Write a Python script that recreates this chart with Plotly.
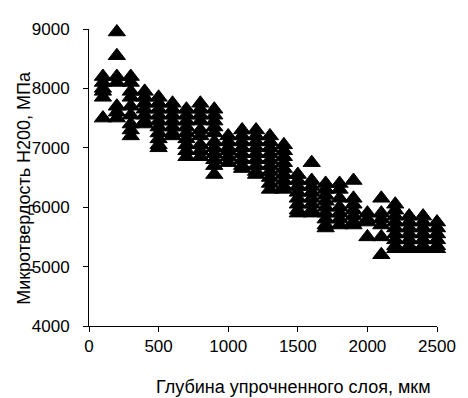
import plotly.graph_objects as go

# Depth of hardened layer, um (one entry per measured point)
depth = (
    [100] * 6 + [200] * 7 + [300] * 9 + [400] * 7 + [500] * 10 +
    [600] * 7 + [700] * 9 + [800] * 9 + [900] * 11 + [1000] * 6 +
    [1100] * 8 + [1200] * 9 + [1300] * 10 + [1400] * 9 + [1500] * 8 +
    [1600] * 8 + [1700] * 9 + [1800] * 7 + [1900] * 7 + [2000] * 4 +
    [2100] * 6 + [2200] * 9 + [2300] * 7 + [2400] * 7 + [2500] * 6
)

# Microhardness H200, MPa
hardness = (
    [8200, 8100, 8000, 7950, 7850, 7500] +
    [8950, 8550, 8200, 8100, 7700, 7600, 7500] +
    [8200, 8100, 7950, 7850, 7700, 7550, 7400, 7300, 7200] +
    [7950, 7850, 7750, 7650, 7550, 7450, 7400] +
    [7850, 7750, 7650, 7550, 7450, 7350, 7250, 7150, 7050, 7000] +
    [7750, 7650, 7550, 7450, 7350, 7250, 7200] +
    [7650, 7550, 7450, 7350, 7250, 7150, 7050, 6950, 6850] +
    [7750, 7650, 7550, 7450, 7300, 7200, 7050, 6950, 6850] +
    [7650, 7550, 7450, 7350, 7250, 7100, 7000, 6900, 6800, 6700, 6550] +
    [7200, 7100, 7000, 6950, 6850, 6750] +
    [7300, 7200, 7100, 7000, 6900, 6800, 6700, 6650] +
    [7300, 7200, 7100, 7000, 6900, 6800, 6700, 6600, 6550] +
    [7200, 7100, 7000, 6900, 6800, 6700, 6600, 6500, 6400, 6300] +
    [7050, 6950, 6850, 6750, 6650, 6550, 6450, 6350, 6300] +
    [6550, 6450, 6350, 6250, 6150, 6050, 5950, 5900] +
    [6750, 6450, 6350, 6250, 6150, 6050, 5950, 5900] +
    [6400, 6300, 6200, 6100, 6000, 5900, 5800, 5700, 5650] +
    [6400, 6300, 6150, 6000, 5900, 5800, 5700] +
    [6450, 6150, 6050, 5950, 5850, 5750, 5700] +
    [5900, 5800, 5750, 5500] +
    [6150, 5900, 5800, 5700, 5500, 5200] +
    [6050, 5950, 5850, 5750, 5650, 5550, 5450, 5350, 5300] +
    [5850, 5750, 5650, 5550, 5450, 5350, 5300] +
    [5850, 5750, 5650, 5550, 5450, 5350, 5300] +
    [5750, 5650, 5550, 5450, 5350, 5300]
)

x_ticks = [0, 500, 1000, 1500, 2000, 2500]
y_ticks = [4000, 5000, 6000, 7000, 8000, 9000]

x_title = "Глубина упрочненного слоя, мкм"
y_title = "Микротвердость Н200, МПа"

FONT = "Arial, Liberation Sans, sans-serif"

fig = go.Figure()
fig.add_trace(go.Scatter(
    x=depth, y=hardness, mode="markers",
    marker=dict(symbol="triangle-up", size=15, color="black",
                line=dict(color="black", width=1)),
    cliponaxis=False, showlegend=False,
))

axis_common = dict(
    showline=True, linecolor="black", linewidth=1,
    ticks="outside", ticklen=5, tickcolor="black", tickwidth=1,
    showgrid=False, zeroline=False,
    tickfont=dict(family=FONT, size=17, color="black"),
)

# The page adds an 8px body margin, so the figure is 8px smaller than the window
fig.update_layout(
    width=460, height=390,
    margin=dict(l=81, r=21, t=15, b=72),
    paper_bgcolor="white", plot_bgcolor="white",
    font=dict(family=FONT, size=17, color="black"),
    xaxis=dict(range=[0, 2500], tickvals=x_ticks, **axis_common),
    yaxis=dict(range=[4000, 9000], tickvals=y_ticks,
               ticklabelstandoff=10, **axis_common),
    annotations=[
        dict(text=y_title, xref="paper", yref="paper",
             x=-0.187, y=0.465, textangle=-90, showarrow=False,
             xanchor="center", yanchor="middle",
             font=dict(family=FONT, size=18, color="black")),
        dict(text=x_title, xref="paper", yref="paper",
             x=0.589, y=-0.207, showarrow=False,
             xanchor="center", yanchor="middle",
             font=dict(family=FONT, size=18, color="black")),
    ],
)

fig.write_html("out.html")
